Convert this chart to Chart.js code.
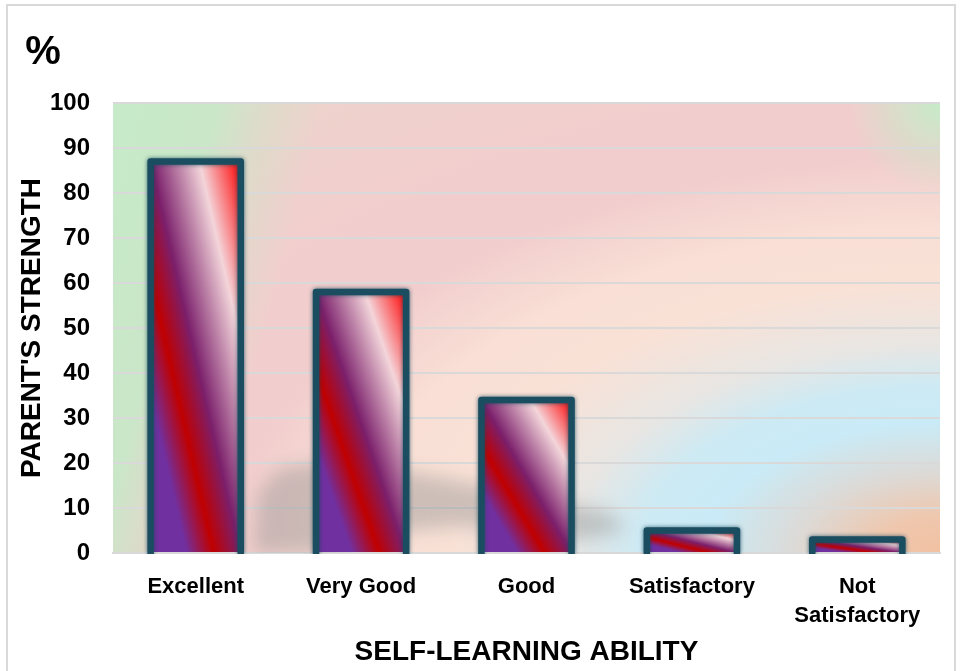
<!DOCTYPE html>
<html>
<head>
  <meta charset="utf-8" />
  <script src="https://cdn.jsdelivr.net/npm/chart.js@4.4.0/dist/chart.umd.min.js"></script>
  <style>
    body { margin:0; background:#fff; }
    #holder { width:961px; height:671px; position:relative; }
  </style>
</head>
<body>
<div id="holder"><canvas id="chart"></canvas></div>
<script>
// data
const categories = ['Excellent', 'Very Good', 'Good', 'Satisfactory', ['Not', 'Satisfactory']];
const strength = [87, 58, 34, 5, 3];
const yTicks = { min: 0, max: 100, step: 10 };

const FONT = "'Liberation Sans', Arial, sans-serif";
const BAR_PCT = 0.545;
const TEAL = '#1b4d60';

// diagonal stripe fill, stretched with the bar like the office gradient
function stripeFill(c) {
  const chart = c.chart;
  if (!chart.chartArea || !chart.scales.x || c.dataIndex === undefined) return '#7030a0';
  const xs = chart.scales.x, ys = chart.scales.y;
  const cx = xs.getPixelForValue(c.dataIndex);
  const w = (xs.width / categories.length) * BAR_PCT;
  const top = ys.getPixelForValue(c.raw), base = ys.getPixelForValue(0);
  const h = Math.max(base - top, 1);
  const left = cx - w / 2;
  const k = 2 * w * h / (h * h + w * w);
  const g = chart.ctx.createLinearGradient(left, base, left + h * k, base - w * k);
  g.addColorStop(0, '#7030a0');
  g.addColorStop(0.2, '#7030a0');
  g.addColorStop(0.35, '#c00000');
  g.addColorStop(0.5, '#7b1f6b');
  g.addColorStop(0.77, '#f3d5da');
  g.addColorStop(1, '#ff0000');
  return g;
}

const backdrop = {
  id: 'backdrop',
  beforeDraw(chart) {
    const { ctx, chartArea: a } = chart;
    const W = a.right - a.left, H = a.bottom - a.top;
    ctx.save();
    ctx.beginPath();
    ctx.rect(a.left, a.top, W, H);
    ctx.clip();
    // elliptical wash from the lower right corner
    const rx = 810, ry = H, R = 1.3;
    ctx.save();
    ctx.translate(a.right, a.bottom);
    ctx.scale(rx / ry, 1);
    const rg = ctx.createRadialGradient(0, 0, 0, 0, 0, ry * R);
    const st = [[0, '#f2c1a2'], [0.08, '#efc7ad'], [0.18, '#dcdad7'], [0.29, '#c9ebf7'], [0.37, '#cdeaf4'],
      [0.46, '#e8e6e3'], [0.6, '#f9e1d6'], [0.72, '#f9dfd5'], [0.88, '#f1cdcd'], [1.1, '#f1cfcd'],
      [1.3, '#eed3cc']];
    st.forEach(s => rg.addColorStop(s[0] / R, s[1]));
    ctx.fillStyle = rg;
    ctx.fillRect(-W * ry / rx - 10, -H - 10, W * ry / rx + 20, H + 20);
    ctx.restore();
    // green along the left edge, wider at the top
    const nx = 450 / 465.7, ny = 120 / 465.7;
    const ax = a.left, ay = a.bottom;
    const lg = ctx.createLinearGradient(ax - nx * 120, ay - ny * 120, ax + nx * 90, ay + ny * 90);
    lg.addColorStop(0, 'rgba(198,235,200,1)');
    lg.addColorStop(0.5, 'rgba(200,232,200,0.95)');
    lg.addColorStop(0.72, 'rgba(205,228,200,0.5)');
    lg.addColorStop(1, 'rgba(205,228,200,0)');
    ctx.fillStyle = lg;
    ctx.fillRect(a.left, a.top, W, H);
    // green corner top right
    const cg = ctx.createRadialGradient(a.right, a.top, 0, a.right, a.top, 90);
    cg.addColorStop(0, 'rgba(198,235,200,1)');
    cg.addColorStop(1, 'rgba(198,235,200,0)');
    ctx.fillStyle = cg;
    ctx.fillRect(a.right - 90, a.top, 90, 90);
    ctx.restore();

    // outer frame
    ctx.save();
    ctx.strokeStyle = '#d9d9d9';
    ctx.lineWidth = 2;
    ctx.strokeRect(7, 5, 948, 700);
    ctx.restore();
  },
  beforeDatasetsDraw(chart) {
    // soft grey shadow behind the first bars
    const { ctx, chartArea: a } = chart;
    const W = a.right - a.left, H = a.bottom - a.top;
    const pts = [[0.17, 1], [0.175, 0.87], [0.2, 0.815], [0.25, 0.8], [0.36, 0.82], [0.5, 0.87],
      [0.6, 0.91], [0.62, 0.95], [0.57, 0.97], [0.42, 0.94], [0.3, 0.96], [0.25, 1]];
    ctx.save();
    ctx.beginPath();
    ctx.rect(a.left, a.top, W, H);
    ctx.clip();
    ctx.filter = 'blur(9px)';
    ctx.fillStyle = 'rgba(140,140,140,0.4)';
    ctx.beginPath();
    pts.forEach((p, i) => {
      const x = a.left + p[0] * W, y = a.top + p[1] * H;
      if (i === 0) ctx.moveTo(x, y); else ctx.lineTo(x, y);
    });
    ctx.closePath();
    ctx.fill();
    ctx.restore();
  },
  afterDatasetsDraw(chart) {
    // dark teal frame with a glow round each bar (no line along the base)
    const { ctx, chartArea: a } = chart;
    const meta = chart.getDatasetMeta(0);
    ctx.save();
    ctx.beginPath();
    ctx.rect(a.left, a.top - 20, a.right - a.left, a.bottom - a.top + 21);
    ctx.clip();
    ctx.strokeStyle = TEAL;
    ctx.lineWidth = 6.5;
    ctx.lineJoin = 'round';
    ctx.shadowColor = 'rgba(20,70,90,0.8)';
    ctx.shadowBlur = 4;
    meta.data.forEach(bar => {
      const p = bar.getProps(['x', 'y', 'base', 'width'], true);
      const l = p.x - p.width / 2, r = p.x + p.width / 2;
      ctx.beginPath();
      ctx.moveTo(l, p.base + 2);
      ctx.lineTo(l, p.y);
      ctx.lineTo(r, p.y);
      ctx.lineTo(r, p.base + 2);
      ctx.stroke();
    });
    ctx.restore();
  },
  afterDraw(chart) {
    const { ctx } = chart;
    ctx.save();
    ctx.fillStyle = '#000';
    ctx.font = 'bold 40px ' + FONT;
    ctx.textAlign = 'center';
    ctx.textBaseline = 'middle';
    ctx.fillText('%', 43, 53);
    ctx.restore();
  }
};

new Chart(document.getElementById('chart'), {
  type: 'bar',
  data: {
    labels: categories,
    datasets: [{
      label: "Parent's strength",
      data: strength,
      backgroundColor: stripeFill,
      borderWidth: 0,
      barPercentage: BAR_PCT,
      categoryPercentage: 1
    }]
  },
  options: {
    responsive: true,
    maintainAspectRatio: false,
    animation: false,
    layout: { padding: { top: 103, left: 8, right: 21, bottom: 0 } },
    plugins: { legend: { display: false }, tooltip: { enabled: false } },
    scales: {
      x: {
        grid: { display: false, drawTicks: false },
        border: { display: true, color: '#d9d9d9', width: 2 },
        ticks: { color: '#000', padding: 19, font: { family: FONT, size: 22, weight: 'bold', lineHeight: 1.32 }, maxRotation: 0 },
        title: { display: true, text: 'SELF-LEARNING ABILITY', color: '#000', padding: { top: 0, bottom: 2 },
          font: { family: FONT, size: 28, weight: 'bold', lineHeight: 1.2 } },
        afterFit(s) { s.height = 118; }
      },
      y: {
        min: yTicks.min,
        max: yTicks.max,
        grid: { color: '#d9d9d9', lineWidth: 2, drawTicks: false },
        border: { display: false },
        ticks: { stepSize: yTicks.step, color: '#000', padding: 23, font: { family: FONT, size: 24, weight: 'bold' } },
        title: { display: true, text: "PARENT'S STRENGTH", color: '#000', padding: { top: 7, bottom: 0 },
          font: { family: FONT, size: 28, weight: 'bold', lineHeight: 1.2 } },
        afterFit(s) { s.width = 105; }
      }
    }
  },
  plugins: [backdrop]
});
</script>
</body>
</html>
